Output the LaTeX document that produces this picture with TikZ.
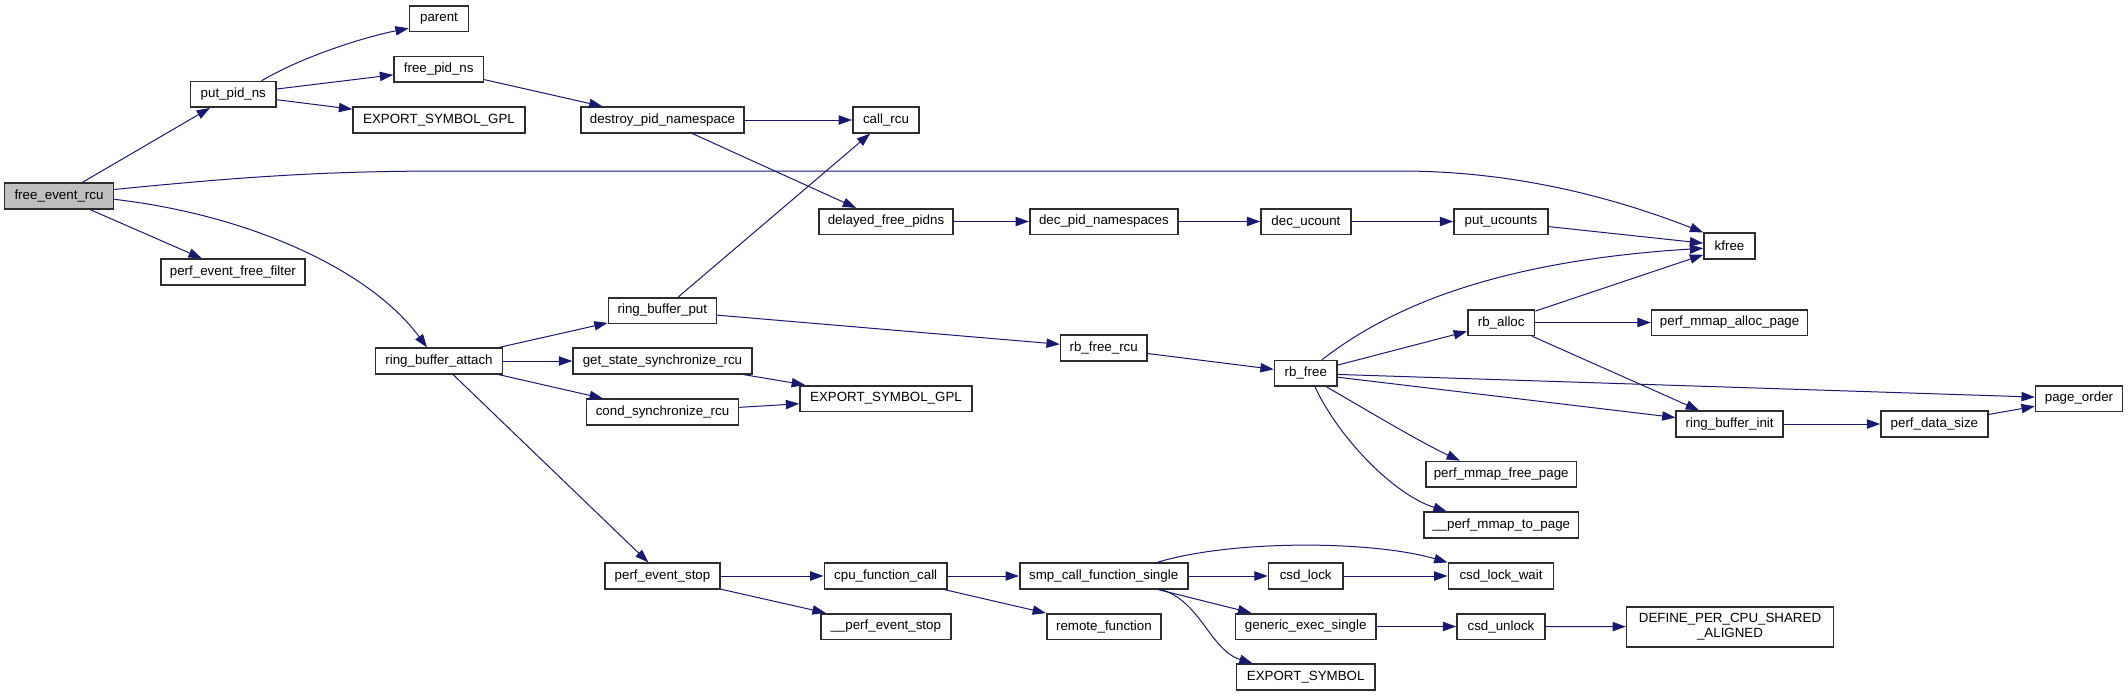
\documentclass[tikz,border=0pt]{standalone}
\usepackage{fontspec}
\setmainfont{Liberation Sans}
\usepackage{xcolor}
\definecolor{edgeblue}{RGB}{25,25,112}
\definecolor{boxline}{RGB}{45,45,45}
\definecolor{rootgray}{RGB}{191,191,191}
\usepackage{tikz}
\usetikzlibrary{arrows.meta,positioning}
\tikzset{
  >={Triangle[length=10pt,width=7pt]},
  fn/.style={rectangle,draw=boxline,line width=1.2pt,fill=white,inner sep=0pt,minimum height=19.2pt,font=\fontsize{10}{11.5}\selectfont},
  rootfn/.style={fn,fill=rootgray},
  call/.style={->,line width=0.75pt,draw=edgeblue}
}

\begin{document}
\begin{tikzpicture}[x=0.75pt,y=-0.75pt]
  \fill[white] (0,0) rectangle (2128,696);
  \useasboundingbox (0,0) rectangle (2128,696);

  % Caller
  \node[rootfn,minimum width=81.75pt] (root) at (59,196) {free\_event\_rcu};

  % Second column
  \node[fn,minimum width=64pt] (putpidns) at (233.3,94.3) {put\_pid\_ns};
  \node[fn,minimum width=108.2pt] (freefilter) at (232.9,272) {perf\_event\_free\_filter};

  % Third column
  \node[fn,minimum width=44.25pt] (parent) at (439,18.5) {parent};
  \node[fn,minimum width=67.1pt] (freepidns) at (438.7,69.3) {free\_pid\_ns};
  \node[fn,minimum width=129pt] (exgpltop) at (439,120) {EXPORT\_SYMBOL\_GPL};
  \node[fn,minimum width=95.1pt] (rbattach) at (439,361) {ring\_buffer\_attach};

  % Fourth column
  \node[fn,minimum width=122.25pt] (destroyns) at (662.5,120) {destroy\_pid\_namespace};
  \node[fn,minimum width=81pt] (rbput) at (662.4,310.5) {ring\_buffer\_put};
  \node[fn,minimum width=134.25pt] (getstate) at (662.5,361) {get\_state\_synchronize\_rcu};
  \node[fn,minimum width=114pt] (condsync) at (662.5,412) {cond\_synchronize\_rcu};
  \node[fn,minimum width=86.25pt] (perfstop) at (662.5,576) {perf\_event\_stop};

  % Fifth column
  \node[fn,minimum width=49.9pt] (callrcu) at (886,120) {call\_rcu};
  \node[fn,minimum width=100.9pt] (delayedfree) at (886,221.5) {delayed\_free\_pidns};
  \node[fn,minimum width=129pt] (exgplmid) at (886,398.5) {EXPORT\_SYMBOL\_GPL};
  \node[fn,minimum width=92pt] (cpufn) at (885.7,576) {cpu\_function\_call};
  \node[fn,minimum width=97.5pt] (innerstop) at (885.8,626.5) {\_\_perf\_event\_stop};

  % Sixth column
  \node[fn,minimum width=111.2pt] (decpidns) at (1103.9,221.5) {dec\_pid\_namespaces};
  \node[fn,minimum width=64.7pt] (rbfreercu) at (1103.7,348) {rb\_free\_rcu};
  \node[fn,minimum width=126pt] (smpcall) at (1103.7,576) {smp\_call\_function\_single};
  \node[fn,minimum width=85.7pt] (remotefn) at (1103.9,626.5) {remote\_function};

  % Seventh column
  \node[fn,minimum width=67.3pt] (decucount) at (1305.9,221.5) {dec\_ucount};
  \node[fn,minimum width=46.9pt] (rbfree) at (1305.8,373.4) {rb\_free};
  \node[fn,minimum width=55.8pt] (csdlock) at (1305.7,576) {csd\_lock};
  \node[fn,minimum width=105.5pt] (genexec) at (1305.7,626.5) {generic\_exec\_single};
  \node[fn,minimum width=104pt] (exsym) at (1305.7,677) {EXPORT\_SYMBOL};

  % Eighth column
  \node[fn,minimum width=70.5pt] (putucounts) at (1501,221.5) {put\_ucounts};
  \node[fn,minimum width=50.1pt] (rballoc) at (1501.2,322.5) {rb\_alloc};
  \node[fn,minimum width=112.8pt] (mmapfree) at (1501.2,474.3) {perf\_mmap\_free\_page};
  \node[fn,minimum width=115.7pt] (mmaptopage) at (1501.2,525) {\_\_perf\_mmap\_to\_page};
  \node[fn,minimum width=79pt] (csdwait) at (1501,576) {csd\_lock\_wait};
  \node[fn,minimum width=66pt] (csdunlock) at (1501,626.5) {csd\_unlock};

  % Ninth column and beyond
  \node[fn,minimum width=38.25pt] (kfree) at (1729.5,246) {kfree};
  \node[fn,minimum width=117pt] (mmapalloc) at (1729.6,322.5) {perf\_mmap\_alloc\_page};
  \node[fn,minimum width=80pt] (rbinit) at (1729.6,424) {ring\_buffer\_init};
  \node[fn,minimum width=155pt,minimum height=30pt,align=center] (definecpu) at (1730,626.7) {DEFINE\_PER\_CPU\_SHARED\\\_ALIGNED};
  \node[fn,minimum width=80.1pt] (datasize) at (1934.4,424) {perf\_data\_size};
  \node[fn,minimum width=65.1pt] (pageorder) at (2079,398.5) {page\_order};

  % Calls from free_event_rcu
  \draw[call] (root) -- (putpidns);
  \draw[call] (root) -- (freefilter);
  \draw[call] ([yshift=4.9pt]root.east) .. controls (250,176) and (330,171) .. (450,171) -- (1400,171) .. controls (1520,171) and (1620,200) .. (kfree.north west);
  \draw[call] ([yshift=-2.5pt]root.east) .. controls (250,215) and (370,270) .. ([xshift=-9pt]rbattach.north);

  % pid namespace branch
  \draw[call] ([xshift=21.3pt]putpidns.north) .. controls (300,58) and (360,38) .. ([yshift=-7.3pt]parent.west);
  \draw[call] (putpidns) -- (freepidns);
  \draw[call] (putpidns) -- (exgpltop);
  \draw[call] (freepidns) -- (destroyns);
  \draw[call] (destroyns) -- (callrcu);
  \draw[call] (destroyns) -- (delayedfree);
  \draw[call] (delayedfree) -- (decpidns);
  \draw[call] (decpidns) -- (decucount);
  \draw[call] (decucount) -- (putucounts);
  \draw[call] (putucounts) -- (kfree);

  % ring buffer branch
  \draw[call] (rbattach) -- (rbput);
  \draw[call] (rbattach) -- (getstate);
  \draw[call] (rbattach) -- (condsync);
  \draw[call] (rbattach) -- (perfstop);
  \draw[call] (rbput) -- (callrcu);
  \draw[call] (rbput) -- (rbfreercu);
  \draw[call] (getstate) -- (exgplmid);
  \draw[call] (condsync) -- (exgplmid);
  \draw[call] (rbfreercu) -- (rbfree);
  \draw[call] ([xshift=12pt]rbfree.north) .. controls (1380,315) and (1480,262) .. ([yshift=-1.7pt]kfree.west);
  \draw[call] (rbfree) -- (rballoc);
  \draw[call] (rbfree) -- (pageorder);
  \draw[call] (rbfree) -- (rbinit);
  \draw[call] ([xshift=15.7pt]rbfree.south) .. controls (1370,412) and (1420,442) .. ([xshift=-31pt]mmapfree.north);
  \draw[call] ([xshift=6.9pt]rbfree.south) .. controls (1340,440) and (1395,495) .. ([xshift=-40.9pt]mmaptopage.north);
  \draw[call] (rballoc) -- (kfree);
  \draw[call] (rballoc) -- (mmapalloc);
  \draw[call] (rballoc) -- (rbinit);
  \draw[call] (rbinit) -- (datasize);
  \draw[call] (datasize) -- (pageorder);

  % cross-call branch
  \draw[call] (perfstop) -- (cpufn);
  \draw[call] (perfstop) -- (innerstop);
  \draw[call] (cpufn) -- (smpcall);
  \draw[call] (cpufn) -- (remotefn);
  \draw[call] ([xshift=40pt]smpcall.north) .. controls (1230,540) and (1370,540) .. (csdwait.north west);
  \draw[call] (smpcall) -- (csdlock);
  \draw[call] (smpcall) -- (genexec);
  \draw[call] ([xshift=42.8pt]smpcall.south) .. controls (1200,600) and (1210,650) .. ([xshift=-39.8pt]exsym.north);
  \draw[call] (csdlock) -- (csdwait);
  \draw[call] (genexec) -- (csdunlock);
  \draw[call] (csdunlock) -- (definecpu);
\end{tikzpicture}
\end{document}
